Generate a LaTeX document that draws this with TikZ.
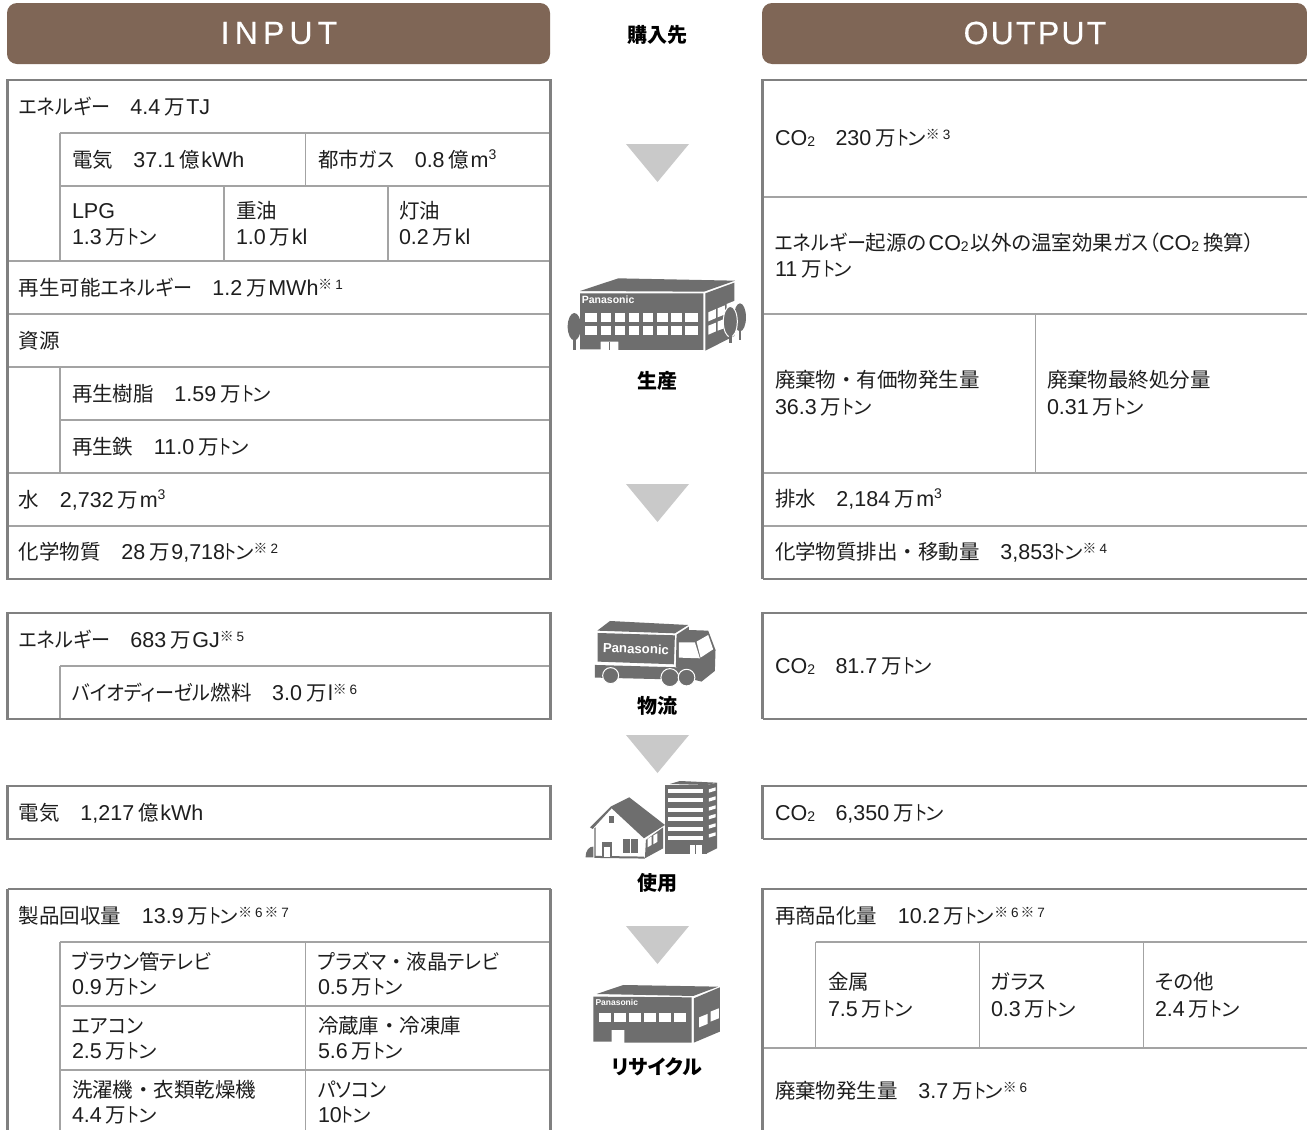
\documentclass[tikz,border=0pt]{standalone}
\usepackage{fontspec}
\setmainfont{Liberation Sans}
\newfontfamily\jp[Scale=0.953,RawFeature=+palt]{Noto Sans CJK JP}
\newfontfamily\jk[Scale=0.953,RawFeature=+palt,FakeStretch=0.93]{Noto Sans CJK JP}
\newfontfamily\jf[Scale=0.953]{Noto Sans CJK JP}
\newfontfamily\jpb[RawFeature=+palt]{Noto Sans CJK JP}
\newfontfamily\hdra[LetterSpace=16,FakeBold=0.5]{Liberation Sans}
\newfontfamily\hdrb[LetterSpace=7,FakeBold=0.5]{Liberation Sans}
\definecolor{brownhd}{HTML}{7F6656}
\definecolor{outerln}{HTML}{808080}
\definecolor{innerln}{HTML}{A3A3A3}
\definecolor{icongray}{HTML}{6E6E6E}
\definecolor{arrowgray}{HTML}{C9C9C9}
\definecolor{inkc}{HTML}{1E1E1E}
\newcommand{\J}[1]{{\jp #1}}
\newcommand{\K}[1]{{\jk #1}}
\newcommand{\dotc}{{\jf ・}}
\newcommand{\sep}{{\jf 　}}
\newcommand{\man}{\hspace{4pt}\J{万}\hspace{1.5pt}}
\newcommand{\oku}{\hspace{4pt}\J{億}\hspace{1.5pt}}
\newcommand{\ton}{\J{\scalebox{.72}[1]{ト}\hspace{-1pt}\scalebox{1}[.9]{ン}}}
\newcommand{\nt}[1]{\raisebox{5.5pt}{\fontsize{14.5}{13}\selectfont\J{※}\hspace{3pt}\fontsize{13.5}{13}\selectfont #1}}
\newcommand{\cubed}{\raisebox{8pt}{\fontsize{14}{13}\selectfont 3}}
\newcommand{\cotwo}{CO\raisebox{-1pt}{\fontsize{14}{13}\selectfont 2}}
\newcommand{\Tx}[4]{\node[txt] (#1) at (#2,#3) {#4};}
\newcommand{\TT}[6]{\node[txt] (#1) at (#2,#3) {\vtop{\baselineskip=#4pt\lineskiplimit=-100pt \hbox{#5}\hbox{#6}}};}
\tikzset{
  txt/.style={anchor=base west,inner sep=0pt,outer sep=0pt,text=inkc,font=\fontsize{21.5}{24}\selectfont},
  caplabel/.style={anchor=base,inner sep=0pt,text=black,font=\fontsize{20}{22}\selectfont\jpb\bfseries},
  outerline/.style={draw=outerln,line width=2.4pt},
  innerline/.style={draw=innerln,line width=1.7pt},
  head/.style={fill=brownhd,rounded corners=10pt},
  tri/.style={fill=arrowgray},
  ico/.style={fill=icongray},
  wht/.style={fill=white},
  logo/.style={anchor=base west,inner sep=0pt,text=white}
}
\begin{document}
\begin{tikzpicture}[x=1pt,y=-1pt]
\useasboundingbox (0,0) rectangle (1307,1130);
\clip (0,0) rectangle (1307,1130);
\fill[white] (0,0) rectangle (1307,1130);
% headers
\fill[head] (7,3) rectangle (550,64);
\fill[head] (762,3) rectangle (1307,64);
\node[inner sep=0pt,text=white,font=\fontsize{32}{36}\selectfont\hdra] (hin) at (279,33) {INPUT};
\node[inner sep=0pt,text=white,font=\fontsize{32}{36}\selectfont\hdrb] (hout) at (1035,33) {OUTPUT};
\node[caplabel] (buy) at (657.5,42) {購入先};
% triangles
\fill[tri] (626,144)--(689,144)--(657.5,182)--cycle;
\fill[tri] (626,484)--(689,484)--(657.5,522)--cycle;
\fill[tri] (626,735)--(689,735)--(657.5,773)--cycle;
\fill[tri] (626,926)--(689,926)--(657.5,964)--cycle;
% LEFT production table
\foreach \y in {261,314,367,473,526}{\draw[innerline] (8,\y)--(550,\y);}
\foreach \y in {133,186,420}{\draw[innerline] (60,\y)--(550,\y);}
\draw[innerline] (60,133)--(60,261) (305.5,133)--(305.5,186) (224,186)--(224,261) (388,186)--(388,261);
\draw[innerline] (60,367)--(60,473);
\draw[outerline] (7.5,80)rectangle(550.5,579);
% left logistics
\draw[innerline] (60,666)--(550,666) (60,666)--(60,719);
\draw[outerline] (7.5,613)rectangle(550.5,719);
% left use
\draw[outerline] (7.5,786)rectangle(550.5,839);
% left recycling
\draw[innerline] (60,942)--(550,942) (60,1006)--(550,1006) (60,1070)--(550,1070);
\draw[innerline] (60,942)--(60,1135) (305.5,942)--(305.5,1135);
\draw[outerline] (7.5,889)--(550.5,889) (7.5,889)--(7.5,1135) (550.5,889)--(550.5,1135);
% RIGHT tables
\foreach \y in {197,314,473,526}{\draw[innerline] (763,\y)--(1307,\y);}
\draw[innerline] (1035.5,314)--(1035.5,473);
\draw[outerline] (762.5,579)--(762.5,80)--(1312,80) (762.5,579)--(1312,579);
\draw[outerline] (762.5,719)--(762.5,613)--(1312,613) (762.5,719)--(1312,719);
\draw[outerline] (762.5,839)--(762.5,786)--(1312,786) (762.5,839)--(1312,839);
\draw[innerline] (815.5,942)--(1307,942) (763,1048)--(1307,1048);
\draw[innerline] (815.5,942)--(815.5,1048) (979.5,942)--(979.5,1048) (1143.5,942)--(1143.5,1048);
\draw[outerline] (762.5,1135)--(762.5,889)--(1312,889);
% LEFT text
\Tx{a1}{19}{114}{\K{エネルギー}\sep 4.4\man TJ}
\Tx{a2}{72}{167}{\J{電気}\sep 37.1\oku kWh}
\Tx{a3}{318}{167}{\J{都市}\K{ガス}\sep 0.8\oku m\cubed}
\TT{a4}{72}{218}{26}{LPG}{1.3\man\ton}
\TT{a5}{236}{218}{26}{\J{重油}}{1.0\man kl}
\TT{a6}{399}{218}{26}{\J{灯油}}{0.2\man kl}
\Tx{a7}{19}{295}{\J{再生可能}\K{エネルギー}\sep 1.2\man MWh\nt{1}}
\Tx{a8}{19}{348}{\J{資源}}
\Tx{a9}{72}{401}{\J{再生樹脂}\sep 1.59\man\ton}
\Tx{a10}{72}{454}{\J{再生鉄}\sep 11.0\man\ton}
\Tx{a11}{19}{507}{\J{水}\sep 2,732\man m\cubed}
\Tx{a12}{19}{559}{\J{化学物質}\sep 28\man 9,718\ton\nt{2}}
\Tx{b1}{19}{647}{\K{エネルギー}\sep 683\man GJ\nt{5}}
\Tx{b2}{72}{700}{\K{バイオディーゼル}\J{燃料}\sep 3.0\man l\nt{6}}
\Tx{c1}{19}{820}{\J{電気}\sep 1,217\oku kWh}
\Tx{d1}{19}{923}{\J{製品回収量}\sep 13.9\man\ton\nt{6}\hspace{2pt}\nt{7}}
\TT{d2}{72}{969}{25}{\K{ブラウン}\J{管}\K{テレビ}}{0.9\man\ton}
\TT{d3}{318}{969}{25}{\K{プラズマ}\dotc\J{液晶}\K{テレビ}}{0.5\man\ton}
\TT{d4}{72}{1033}{25}{\K{エアコン}}{2.5\man\ton}
\TT{d5}{318}{1033}{25}{\J{冷蔵庫}\dotc\J{冷凍庫}}{5.6\man\ton}
\TT{d6}{72}{1097}{25}{\J{洗濯機}\dotc\J{衣類乾燥機}}{4.4\man\ton}
\TT{d7}{318}{1097}{25}{\K{パソコン}}{10\ton}
% RIGHT text
\Tx{e1}{775}{145}{\cotwo\sep 230\man\ton\nt{3}}
\TT{e2}{775}{250}{26}{\K{エネルギー}\J{起源の}\hspace{2pt}\cotwo\hspace{2pt}\J{以外の温室効果}\K{ガス}\J{（}\cotwo\hspace{4pt}\J{換算）}}{11\man\ton}
\TT{e3}{775}{387}{27}{\J{廃棄物}\dotc\J{有価物発生量}}{36.3\man\ton}
\TT{e4}{1047}{387}{27}{\J{廃棄物最終処分量}}{0.31\man\ton}
\Tx{e5}{775}{506}{\J{排水}\sep 2,184\man m\cubed}
\Tx{e6}{775}{559}{\J{化学物質排出}\dotc\J{移動量}\sep 3,853\ton\nt{4}}
\Tx{f1}{775}{673}{\cotwo\sep 81.7\man\ton}
\Tx{g1}{775}{820}{\cotwo\sep 6,350\man\ton}
\Tx{h1}{775}{923}{\J{再商品化量}\sep 10.2\man\ton\nt{6}\hspace{2pt}\nt{7}}
\TT{h2}{828}{989}{27}{\J{金属}}{7.5\man\ton}
\TT{h3}{991}{989}{27}{\J{ガラス}}{0.3\man\ton}
\TT{h4}{1155}{989}{27}{\J{その他}}{2.4\man\ton}
\Tx{h5}{775}{1098}{\J{廃棄物発生量}\sep 3.7\man\ton\nt{6}}
% factory icon
\begin{scope}[shift={(550,260)},x=0.3333pt,y=-0.3333pt]
 \fill[ico] (90,93)--(205,55)--(555,62)--(462,95)--cycle;
 \fill[ico] (90,100)--(460,100)--(460,270)--(205,270)--(205,245)--(152,245)--(152,268)--(90,268)--cycle;
 \fill[ico] (176,245) rectangle (180,270);
 \fill[ico] (466,100)--(553,68)--(553,228)--(466,272)--cycle;
 \foreach \x/\w in {104/36,152/32,195/31,237/31,279/31,322/31,364/31,406/38}{
   \fill[wht] (\x,158) rectangle ++(\w,27);
   \fill[wht] (\x,198) rectangle ++(\w,28);}
 \fill[wht] (475,157)--(498,147)--(498,174)--(475,184)--cycle;
 \fill[wht] (503,145)--(525,136)--(525,163)--(503,172)--cycle;
 \fill[wht] (475,197)--(498,188)--(498,214)--(475,224)--cycle;
 \fill[wht] (503,185)--(525,176)--(525,204)--(503,212)--cycle;
 \fill[wht] (530,132)--(555,122)--(555,150)--(530,160)--cycle;
 \fill[ico] (73,200) ellipse[x radius=20,y radius=41];
 \fill[ico] (69,235) rectangle (77,270);
 \fill[ico] (570,172) ellipse[x radius=18,y radius=42];
 \fill[ico] (566,205) rectangle (573,240);
 \fill[ico,draw=white,line width=1pt] (541,185) ellipse[x radius=21,y radius=46];
 \fill[ico] (537,225) rectangle (545,250);
 \node[logo,font=\fontsize{10.5}{12}\selectfont\bfseries] (logoa) at (95,130) {Panasonic};
\end{scope}
\node[caplabel] (prod) at (657,388) {生産};
% truck icon
\begin{scope}[shift={(570,610)},x=0.333pt,y=-0.333pt]
 \fill[ico] (82,62)--(120,33)--(355,45)--(315,70)--cycle;
 \fill[ico] (83,69)--(315,76)--(312,163)--(83,155)--cycle;
 \fill[ico] (320,74)--(357,50)--(357,60)--(415,62)--(437,120)--(435,183)--(395,215)--(375,210)--(375,190)--(318,172)--cycle;
 \fill[ico] (75,165)--(318,172)--(375,180)--(375,210)--(75,203)--cycle;
 \fill[wht] (327,97)--(375,97)--(390,145)--(327,143)--cycle;
 \fill[wht] (380,95)--(415,75)--(430,118)--(392,143)--cycle;
 \fill[ico,draw=white,line width=1pt] (122,197) circle[radius=24];
 \fill[ico,draw=white,line width=1pt] (300,203) circle[radius=27];
 \fill[ico,draw=white,line width=1pt] (350,203) circle[radius=25];
 \node[logo,rotate=-2,font=\fontsize{13.2}{16}\selectfont\bfseries] (logob) at (98,127) {Panasonic};
\end{scope}
\node[caplabel] (logi) at (657,713) {物流};
% use icon
\begin{scope}[shift={(570,770)},x=0.333pt,y=-0.333pt]
 \fill[ico] (47,262) .. controls (47,240) and (58,230) .. (70,230) -- (70,262) -- cycle;
 \fill[wht] (75,170)--(125,118)--(222,210)--(222,262)--(75,262)--cycle;
 \fill[ico] (60,172)--(122,110)--(178,82)--(285,165)--(222,205)--(125,115)--(68,177)--cycle;
 \fill[ico] (73,175)--(77,172)--(77,258)--(222,260)--(225,266)--(73,264)--cycle;
 \fill[ico] (97,217) rectangle (125,260);
 \fill[wht] (103,224) rectangle (120,260);
 \fill[ico] (103,224) rectangle (122,232);
 \fill[ico] (117,137) rectangle (132,160);
 \fill[ico] (160,207) rectangle (180,250);
 \fill[ico] (184,207) rectangle (205,250);
 \fill[ico] (228,210)--(280,172)--(280,235)--(225,265)--cycle;
 \fill[wht] (233,207)--(245,199)--(245,225)--(233,232)--cycle;
 \fill[wht] (250,197)--(262,190)--(262,216)--(250,223)--cycle;
 % building
 \fill[ico] (300,42)--(330,33)--(440,38)--(412,45)--cycle;
 \fill[ico] (285,44) rectangle (410,252);
 \foreach \y in {57,83,113,140,170,197}{\fill[wht] (295,\y) rectangle (400,\y+13);}
 \fill[wht] (360,225) rectangle (395,252);
 \fill[ico] (376,225) rectangle (379,252);
 \fill[ico] (412,45)--(442,38)--(442,235)--(412,250)--cycle;
 \foreach \y in {55,82,109,135,163,190}{\fill[wht] (417,\y+3)--(437,\y-3)--(437,\y+7)--(417,\y+13)--cycle;}
\end{scope}
\node[caplabel] (use) at (657,890) {使用};
% recycle icon
\begin{scope}[shift={(570,970)},x=0.333pt,y=-0.333pt]
 \fill[ico] (80,72)--(160,45)--(445,50)--(370,78)--cycle;
 \fill[ico] (70,80)--(365,82)--(365,218)--(163,218)--(163,180)--(125,180)--(125,215)--(70,215)--cycle;
 \fill[ico] (372,85)--(450,52)--(450,185)--(372,218)--cycle;
 \foreach \x in {88,133,178,222,267,312}{\fill[wht] (\x,128) rectangle ++(36,29);}
 \fill[wht] (388,142)--(413,132)--(413,162)--(388,172)--cycle;
 \fill[wht] (422,125)--(447,115)--(447,145)--(422,155)--cycle;
 \node[logo,font=\fontsize{8.5}{10}\selectfont\bfseries] (logoc) at (76,106) {Panasonic};
\end{scope}
\node[caplabel] (recy) at (657,1074) {リサイクル};
\end{tikzpicture}
\end{document}
